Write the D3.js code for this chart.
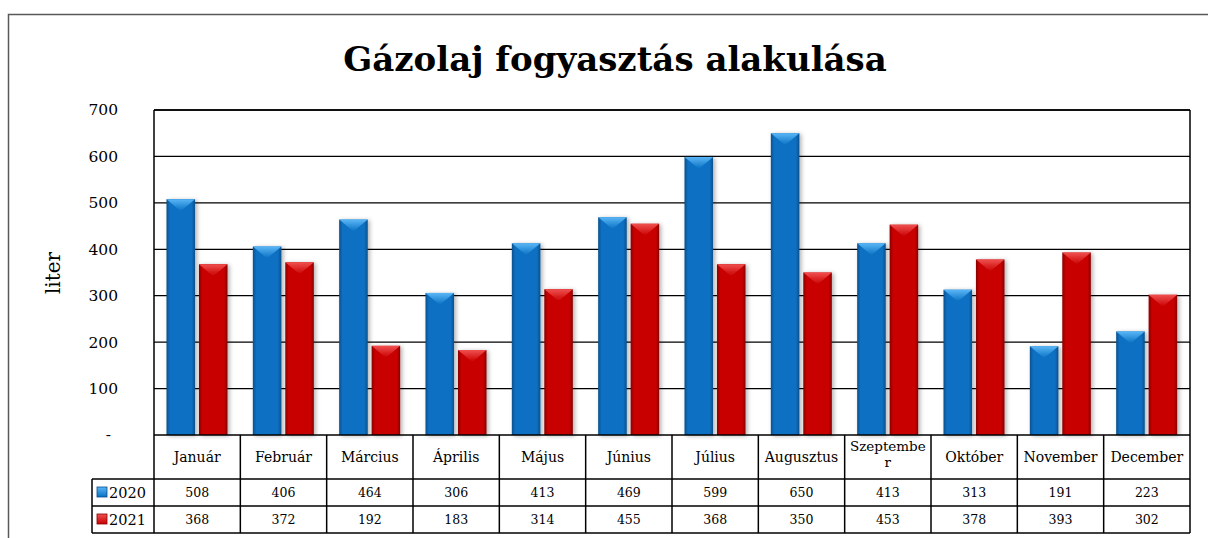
<!DOCTYPE html>
<html>
<head>
<meta charset="utf-8">
<script src="https://cdn.jsdelivr.net/npm/d3@7"></script>
<style>
  body { margin: 0; background: #fff; }
  svg { display: block; font-family: "DejaVu Serif", Georgia, serif; }
</style>
</head>
<body>
<svg id="chart" width="1208" height="538"></svg>
<script>
// data
const months = ["Január", "Február", "Március", "Április", "Május", "Június",
  "Július", "Augusztus", "Szeptember", "Október", "November", "December"];
const years = ["2020", "2021"];
const values2020 = [508, 406, 464, 306, 413, 469, 599, 650, 413, 313, 191, 223];
const values2021 = [368, 372, 192, 183, 314, 455, 368, 350, 453, 378, 393, 302];
const yTicks = [0, 100, 200, 300, 400, 500, 600, 700];

const series = [
  { year: "2020", values: values2020, main: "#0870c2", dark: "#084f8c", light: "#5ab6f6" },
  { year: "2021", values: values2021, main: "#c80000", dark: "#880000", light: "#f05050" }
];

const svg = d3.select("#chart");
const plotLeft = 154, plotRight = 1190, plotTop = 110, plotBottom = 435;
const tableLeft = 92, row1 = 479, row2 = 506, row3 = 533;

// outer frame
svg.append("rect")
  .attr("x", 8.5).attr("y", 14.5)
  .attr("width", 1300).attr("height", 600)
  .attr("fill", "none")
  .attr("stroke", "#595959")
  .attr("stroke-width", 1.5);

svg.append("text")
  .attr("x", 615).attr("y", 71)
  .attr("text-anchor", "middle")
  .attr("font-size", 34)
  .attr("font-weight", "bold")
  .text("Gázolaj fogyasztás alakulása");

// scales
const x0 = d3.scaleBand().domain(months).range([plotLeft, plotRight]);
const x1 = d3.scaleBand().domain(years).range([12.5, 73.5]).paddingInner(0.12);
const y = d3.scaleLinear().domain([0, 700]).range([plotBottom, plotTop]);

// gradients
const defs = svg.append("defs");
series.forEach(function(s) {
  const g = defs.append("linearGradient").attr("id", "body" + s.year)
    .attr("x1", 0).attr("x2", 1).attr("y1", 0).attr("y2", 0);
  g.append("stop").attr("offset", "0%").attr("stop-color", s.dark);
  g.append("stop").attr("offset", "12%").attr("stop-color", s.main);
  g.append("stop").attr("offset", "88%").attr("stop-color", s.main);
  g.append("stop").attr("offset", "100%").attr("stop-color", s.dark);
  const t = defs.append("linearGradient").attr("id", "top" + s.year)
    .attr("x1", 0).attr("x2", 0).attr("y1", 0).attr("y2", 1);
  t.append("stop").attr("offset", "0%").attr("stop-color", s.light);
  t.append("stop").attr("offset", "100%").attr("stop-color", s.main);
});
const shadow = defs.append("filter").attr("id", "shadow")
  .attr("x", "-30%").attr("y", "-10%").attr("width", "160%").attr("height", "120%");
shadow.append("feDropShadow")
  .attr("dx", 2).attr("dy", 1).attr("stdDeviation", 2)
  .attr("flood-color", "#000").attr("flood-opacity", 0.3);

// y axis
const yAxis = svg.append("g")
  .attr("transform", `translate(${plotLeft},0)`)
  .call(d3.axisLeft(y).tickValues(yTicks).tickSize(0).tickPadding(36)
    .tickFormat(d => d === 0 ? "-" : d));
yAxis.select(".domain").remove();
yAxis.selectAll("text")
  .attr("font-family", "DejaVu Serif")
  .attr("font-size", 15.5)
  .attr("fill", "#000")
  .filter(d => d === 0).attr("dx", -7);

svg.append("text")
  .attr("transform", "translate(60,273) rotate(-90)")
  .attr("text-anchor", "middle")
  .attr("font-size", 20)
  .text("liter");

// gridlines
svg.append("g").selectAll("line")
  .data(yTicks.filter(d => d > 0))
  .join("line")
  .attr("x1", plotLeft).attr("x2", plotRight)
  .attr("y1", d => y(d)).attr("y2", d => y(d))
  .attr("stroke", "#000").attr("stroke-width", 1.3);

// bars
const groups = svg.append("g").selectAll("g")
  .data(months)
  .join("g")
  .attr("transform", d => `translate(${x0(d)},0)`);

const bars = groups.selectAll("g.bar")
  .data((m, i) => series.map(s => ({ s: s, v: s.values[i] })))
  .join("g")
  .attr("class", "bar")
  .attr("filter", "url(#shadow)");

bars.append("rect")
  .attr("x", d => x1(d.s.year))
  .attr("y", d => y(d.v))
  .attr("width", x1.bandwidth())
  .attr("height", d => y(0) - y(d.v))
  .attr("fill", d => `url(#body${d.s.year})`);

bars.append("path")
  .attr("d", function(d) {
    const bx = x1(d.s.year), bw = x1.bandwidth(), by = y(d.v);
    return `M${bx},${by}L${bx + bw},${by}L${bx + bw / 2},${by + 12}Z`;
  })
  .attr("fill", d => `url(#top${d.s.year})`);

// table lines
const lines = svg.append("g").attr("stroke", "#000").attr("stroke-width", 1.5);
lines.append("line").attr("x1", plotLeft).attr("x2", plotRight).attr("y1", plotTop).attr("y2", plotTop);
lines.append("line").attr("x1", plotLeft).attr("x2", plotRight).attr("y1", plotBottom).attr("y2", plotBottom);
[row1, row2, row3].forEach(function(r) {
  lines.append("line").attr("x1", tableLeft).attr("x2", plotRight).attr("y1", r).attr("y2", r);
});
lines.append("line").attr("x1", plotLeft).attr("x2", plotLeft).attr("y1", plotTop).attr("y2", row3);
lines.append("line").attr("x1", plotRight).attr("x2", plotRight).attr("y1", plotTop).attr("y2", row3);
lines.append("line").attr("x1", tableLeft).attr("x2", tableLeft).attr("y1", row1).attr("y2", row3);
lines.selectAll("line.sep")
  .data(months.slice(1))
  .join("line")
  .attr("class", "sep")
  .attr("x1", d => x0(d)).attr("x2", d => x0(d))
  .attr("y1", plotBottom).attr("y2", row3);

// month labels
const catText = svg.append("g").attr("font-size", 14).attr("text-anchor", "middle");
months.forEach(function(m) {
  const cx = x0(m) + x0.bandwidth() / 2;
  if (m === "Szeptember") {
    catText.append("text").attr("x", cx).attr("y", 451).attr("font-size", 13.5).text("Szeptembe");
    catText.append("text").attr("x", cx).attr("y", 467).attr("font-size", 13.5).text("r");
  } else {
    catText.append("text").attr("x", cx).attr("y", 462).text(m);
  }
});

// value rows
series.forEach(function(s, si) {
  const ry = si === 0 ? row1 : row2;
  svg.append("g").attr("font-size", 12.5).attr("text-anchor", "middle")
    .selectAll("text")
    .data(s.values)
    .join("text")
    .attr("x", (v, i) => x0(months[i]) + x0.bandwidth() / 2)
    .attr("y", ry + 18)
    .text(v => v);
  svg.append("rect")
    .attr("x", 97).attr("y", ry + 8)
    .attr("width", 10).attr("height", 10)
    .attr("fill", `url(#top${s.year})`)
    .attr("stroke", s.dark).attr("stroke-width", 0.8);
  svg.append("text")
    .attr("x", 109).attr("y", ry + 19)
    .attr("font-size", 14.5)
    .text(s.year);
});
</script>
</body>
</html>
